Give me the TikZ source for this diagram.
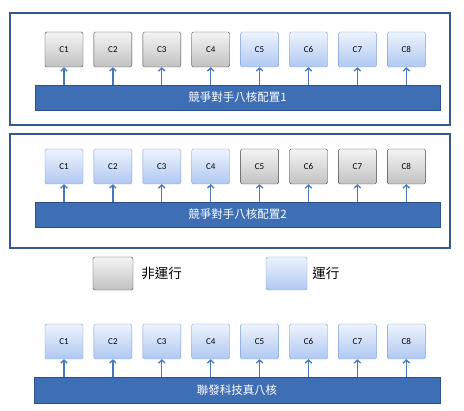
\documentclass[tikz,border=0pt]{standalone}
\usepackage{fontspec}
\setmainfont{Carlito}
\newfontfamily\cjk{Noto Sans CJK TC}
\usetikzlibrary{arrows.meta,positioning}

\definecolor{framecol}{HTML}{34598F}
\definecolor{barfill}{HTML}{3E6FB5}
\definecolor{barline}{HTML}{2C5089}
\definecolor{arrcol}{HTML}{4777BC}
\definecolor{busytop}{HTML}{EEF3FD}
\definecolor{busybot}{HTML}{B0C8F2}
\definecolor{busyline}{HTML}{7E9ED6}
\definecolor{idletop}{HTML}{F4F4F4}
\definecolor{idlebot}{HTML}{C2C2C2}

\begin{document}
\begin{tikzpicture}[x=1pt,y=-1pt,font=\fontsize{9}{10}\selectfont]
\tikzset{
  idle/.style={draw=black!75,rounded corners=1.5pt,top color=idletop,bottom color=idlebot,minimum width=38pt,minimum height=35pt,inner sep=0pt},
  busy/.style={draw=busyline,rounded corners=1.5pt,top color=busytop,bottom color=busybot,minimum width=38pt,minimum height=35pt,inner sep=0pt},
  bar/.style={draw=barline,fill=barfill,text=white,font=\cjk\fontsize{11.5}{12}\selectfont,minimum width=405pt,minimum height=25pt,inner sep=0pt},
  frame/.style={draw=framecol,line width=1.3pt,minimum width=440pt,inner sep=0pt},
  keytext/.style={font=\cjk\fontsize{13.5}{15}\selectfont,inner sep=0pt},
  arr/.style={-{Straight Barb[length=3pt,width=6.5pt]},line width=1.3pt,draw=arrcol}
}
\useasboundingbox (0,0) rectangle (464,411);
% competitor, config 1
\node(f1)[frame,minimum height=112pt] at (230,69) {};
\node(bar1)[bar] at (237.5,97.5) {競爭對手八核配置1};
\foreach \i/\s in {1/idle,2/idle,3/idle,4/idle,5/busy,6/busy,7/busy,8/busy}{
  \node(a\i)[\s] at ({64+48.9*(\i-1)},49.5) {C\i};
  \draw[arr](a\i |- bar1.north)--(a\i);
}
% competitor, config 2
\node(f2)[frame,minimum height=114pt] at (230,191) {};
\node(bar2)[bar] at (237.5,214.5) {競爭對手八核配置2};
\foreach \i/\s in {1/busy,2/busy,3/busy,4/busy,5/idle,6/idle,7/idle,8/idle}{
  \node(b\i)[\s] at ({64+48.9*(\i-1)},166.5) {C\i};
  \draw[arr](b\i |- bar2.north)--(b\i);
}
% legend
\node(kidle)[idle,minimum width=40pt,minimum height=33pt] at (113,273.5) {};
\node(tidle)[keytext,right=8pt of kidle]{非運行};
\node(kbusy)[busy,minimum width=41pt,minimum height=33pt] at (286.5,273.5) {};
\node(tbusy)[keytext,right=5pt of kbusy]{運行};
% true octa-core
\node(bar3)[bar,minimum width=406pt,minimum height=26pt] at (237,390) {聯發科技真八核};
\foreach \i in {1,...,8}{
  \node(c\i)[busy] at ({64+48.9*(\i-1)},341.5) {C\i};
  \draw[arr](c\i |- bar3.north)--(c\i);
}
\end{tikzpicture}
\end{document}
